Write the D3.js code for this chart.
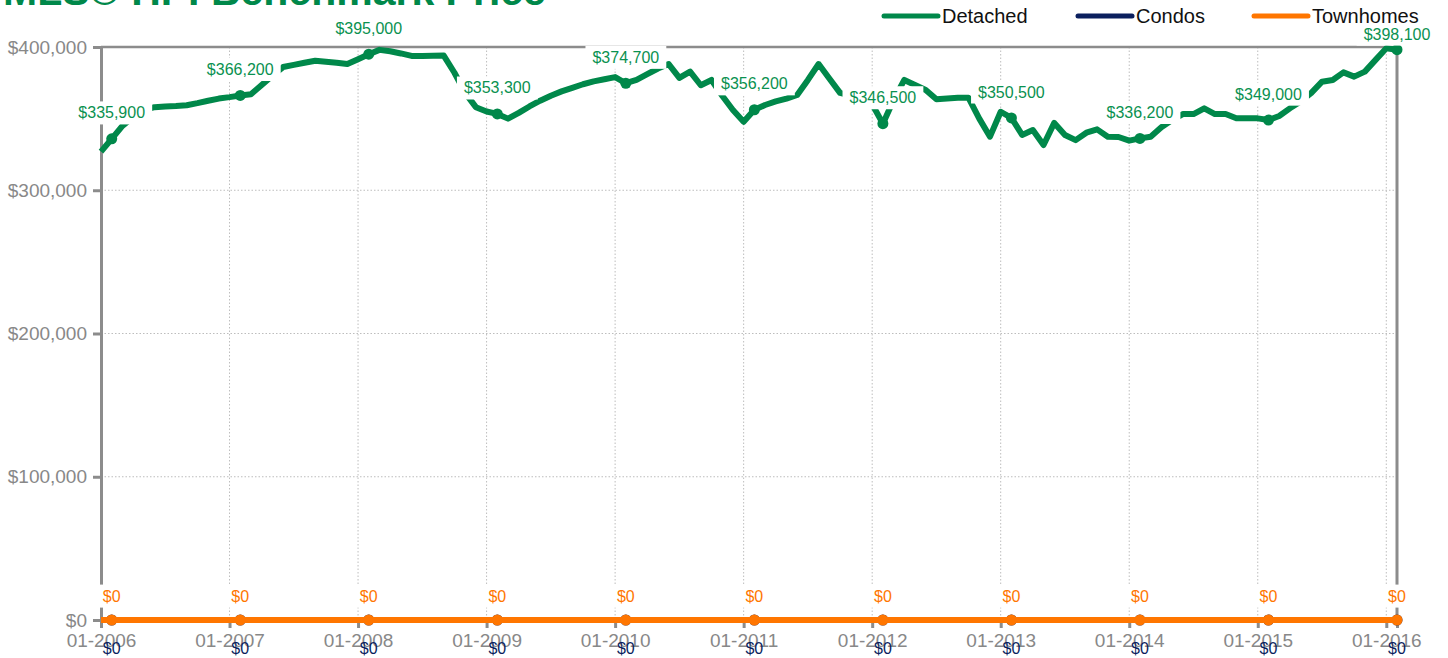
<!DOCTYPE html>
<html>
<head>
<meta charset="utf-8">
<script src="https://cdn.jsdelivr.net/npm/d3@7"></script>
<style>
  body { margin: 0; background: #fff; }
  svg { font-family: "Liberation Sans", Arial, sans-serif; }
</style>
</head>
<body>
<svg width="1448" height="658"></svg>
<script>
// **** Data ****
var seriesNames = ["Detached", "Condos", "Townhomes"];
var seriesColors = ["#00884a", "#0b1f5e", "#ff7600"];

// monthly benchmark price, 01-2006 .. 02-2016
var detached = [
  327000, 335900, 345000, 351000, 356000, 358000, 358500, 358800, 359300, 360800, 362500, 364000,
  365000, 366200, 367000, 373500, 380000, 386000, 387500, 389000, 390400, 389700, 389000, 388100,
  391500, 395000, 398000, 397000, 395500, 393800, 393800, 393900, 394000, 382000, 368000, 358000,
  355000, 353300, 350000, 354000, 358500, 362500, 366000, 369000, 371500, 374000, 376000, 377500,
  379000, 374700, 377000, 381000, 385000, 388100, 378400, 382800, 373300, 377000, 366000, 356000,
  347800, 356200, 359500, 362000, 364000, 366500, 377000, 388100, 378000, 368000, 366000, 363500,
  360000, 346500, 363000, 377000, 373500, 370000, 363500, 364000, 364500, 364500, 350000, 337400,
  354800, 350500, 338600, 342000, 331600, 347000, 338600, 335000, 340200, 342500, 337400, 337200,
  334600, 336200, 337400, 344000, 349000, 353200, 353200, 357200, 353200, 353200, 350200, 350200,
  350200, 349000, 351800, 357200, 362000, 368000, 375800, 377000, 382300, 379300, 382800, 391000,
  399100, 398100
];
var condos = [
  0,0,0,0,0,0,0,0,0,0,0,0, 0,0,0,0,0,0,0,0,0,0,0,0, 0,0,0,0,0,0,0,0,0,0,0,0,
  0,0,0,0,0,0,0,0,0,0,0,0, 0,0,0,0,0,0,0,0,0,0,0,0, 0,0,0,0,0,0,0,0,0,0,0,0,
  0,0,0,0,0,0,0,0,0,0,0,0, 0,0,0,0,0,0,0,0,0,0,0,0, 0,0,0,0,0,0,0,0,0,0,0,0,
  0,0,0,0,0,0,0,0,0,0,0,0, 0,0
];
var townhomes = [
  0,0,0,0,0,0,0,0,0,0,0,0, 0,0,0,0,0,0,0,0,0,0,0,0, 0,0,0,0,0,0,0,0,0,0,0,0,
  0,0,0,0,0,0,0,0,0,0,0,0, 0,0,0,0,0,0,0,0,0,0,0,0, 0,0,0,0,0,0,0,0,0,0,0,0,
  0,0,0,0,0,0,0,0,0,0,0,0, 0,0,0,0,0,0,0,0,0,0,0,0, 0,0,0,0,0,0,0,0,0,0,0,0,
  0,0,0,0,0,0,0,0,0,0,0,0, 0,0
];
// points that carry a marker + label (February of each year)
var labelIdx = [1, 13, 25, 37, 49, 61, 73, 85, 97, 109, 121];
var yTicks = [0, 100000, 200000, 300000, 400000];

var fmtMonth = d3.timeFormat("%m-%Y");
var months = d3.timeMonth.range(new Date(2006, 0, 1), new Date(2016, 2, 1)).map(fmtMonth);
var xTicks = months.filter(m => m.slice(0, 2) === "01");

var svg = d3.select("svg");
var plotLeft = 101, plotRight = 1397, plotTop = 47, plotBottom = 620;

var x = d3.scalePoint().domain(months).range([plotLeft, plotRight]);
var y = d3.scaleLinear().domain([0, 400000]).range([plotBottom, plotTop]);
var money = d => "$" + d3.format(",")(d);

// **** Title ****
svg.append("text")
  .attr("x", 3).attr("y", 5)
  .style("font-size", "41px").style("font-weight", "bold")
  .style("fill", "#00884a")
  .text("MLS® HPI Benchmark Price");

// **** Grid ****
svg.append("g").selectAll("line")
  .data(xTicks).enter().append("line")
  .attr("x1", d => x(d)).attr("x2", d => x(d))
  .attr("y1", plotTop).attr("y2", plotBottom)
  .style("stroke", "#bdbdbd").style("stroke-dasharray", "1.5,2");

svg.append("g").selectAll("line")
  .data(yTicks.filter(d => d > 0 && d < 400000)).enter().append("line")
  .attr("x1", plotLeft).attr("x2", plotRight)
  .attr("y1", d => y(d)).attr("y2", d => y(d))
  .style("stroke", "#bdbdbd").style("stroke-dasharray", "1.5,2");

// frame
svg.append("line").attr("x1", plotLeft).attr("x2", plotRight).attr("y1", plotTop).attr("y2", plotTop)
  .style("stroke", "#8c8c8c").style("stroke-width", 2.5);
svg.append("line").attr("x1", plotRight).attr("x2", plotRight).attr("y1", plotTop).attr("y2", plotBottom)
  .style("stroke", "#8c8c8c").style("stroke-width", 3);

// **** Axes ****
var yAxis = svg.append("g")
  .attr("transform", "translate(" + plotLeft + ",0)")
  .call(d3.axisLeft(y).tickValues(yTicks).tickFormat(money).tickSize(8).tickPadding(6));
var xAxis = svg.append("g")
  .attr("transform", "translate(0," + plotBottom + ")")
  .call(d3.axisBottom(x).tickValues(xTicks).tickSize(8).tickPadding(6));

[xAxis, yAxis].forEach(function(g) {
  g.select(".domain").style("stroke", "#8c8c8c").style("stroke-width", 3);
  g.selectAll(".tick line").style("stroke", "#8c8c8c").style("stroke-width", 3);
  g.selectAll(".tick text").style("fill", "#888").style("font-size", "19px")
    .style("font-family", "'Liberation Sans', Arial, sans-serif");
});

// **** Lines ****
var line = d3.line().x((d, i) => x(months[i])).y(d => y(d));
var allSeries = [detached, condos, townhomes];

// draw condos first so the orange townhomes line sits on top
[1, 2, 0].forEach(function(s) {
  svg.append("path")
    .datum(allSeries[s])
    .attr("d", line)
    .style("fill", "none")
    .style("stroke", seriesColors[s])
    .style("stroke-width", 6)
    .style("stroke-linejoin", "round");

  svg.append("g").selectAll("circle")
    .data(labelIdx).enter().append("circle")
    .attr("cx", i => x(months[i]))
    .attr("cy", i => y(allSeries[s][i]))
    .attr("r", 5.5)
    .style("fill", seriesColors[s]);
});

// **** Data labels ****
function addLabels(values, color, dy, withBg) {
  var g = svg.append("g");
  labelIdx.forEach(function(i) {
    var lx = x(months[i]);
    var ly = y(values[i]) + dy;
    // keep labels under the legend clear of it
    if (lx > 860) ly = Math.max(ly, 34);
    var t = g.append("text")
      .attr("x", lx)
      .attr("y", ly)
      .attr("text-anchor", "middle")
      .attr("dy", "0.35em")
      .style("font-size", "16px")
      .style("fill", color)
      .text(money(values[i]));
    if (withBg) {
      var b = t.node().getBBox();
      g.insert("rect", function() { return t.node(); })
        .attr("x", b.x - 7).attr("y", b.y - 3)
        .attr("width", b.width + 14).attr("height", b.height + 6)
        .style("fill", "#fff");
    }
  });
}
addLabels(detached, "#0a9150", -26, true);
addLabels(townhomes, "#ff7600", -24, true);
addLabels(condos, "#0b1f5e", 28, false);

// **** Legend ****
var legendX = [884, 1078, 1254];
var legend = svg.append("g");
seriesNames.forEach(function(name, k) {
  legend.append("line")
    .attr("x1", legendX[k]).attr("x2", legendX[k] + 54)
    .attr("y1", 16).attr("y2", 16)
    .style("stroke", seriesColors[k]).style("stroke-width", 5)
    .style("stroke-linecap", "round");
  legend.append("text")
    .attr("x", legendX[k] + 58).attr("y", 16).attr("dy", "0.35em")
    .style("font-size", "20px").style("fill", "#111")
    .text(name);
});
</script>
</body>
</html>
